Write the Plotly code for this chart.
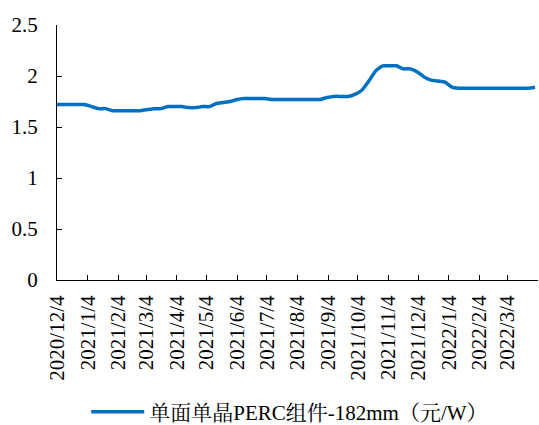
import plotly.graph_objects as go
import pandas as pd

start_date = "2020-12-04"
n_weeks = 70
prices = [
    1.72, 1.72, 1.72, 1.72, 1.72, 1.70, 1.68, 1.68, 1.66, 1.66,
    1.66, 1.66, 1.66, 1.67, 1.68, 1.68, 1.70, 1.70, 1.70, 1.69,
    1.69, 1.70, 1.70, 1.73, 1.74, 1.75, 1.77, 1.78, 1.78, 1.78,
    1.78, 1.77, 1.77, 1.77, 1.77, 1.77, 1.77, 1.77, 1.77, 1.79,
    1.80, 1.80, 1.80, 1.82, 1.86, 1.95, 2.05, 2.10, 2.10, 2.10,
    2.07, 2.07, 2.04, 1.99, 1.96, 1.95, 1.94, 1.89, 1.88, 1.88,
    1.88, 1.88, 1.88, 1.88, 1.88, 1.88, 1.88, 1.88, 1.88, 1.89,
]
series_name = "单面单晶PERC组件-182mm（元/W）"
tick_months = [(2020, 12)] + [(2021, i) for i in range(1, 13)] + [(2022, i) for i in range(1, 4)]
tick_dates = [pd.Timestamp(y, m, 4) for y, m in tick_months]
tick_labels = [f"{d.year}/{d.month}/{d.day}" for d in tick_dates]

dates = pd.date_range(start_date, periods=n_weeks, freq="7D")

fig = go.Figure()
fig.add_trace(go.Scatter(
    x=dates, y=prices, mode="lines", name=series_name,
    line=dict(color="#0070C0", width=3.5, shape="spline", smoothing=0.4),
    showlegend=True,
))

font_main = "Liberation Serif"
fig.update_layout(
    width=539, height=425,
    margin=dict(l=57, r=1, t=25, b=145, autoexpand=False),
    paper_bgcolor="white", plot_bgcolor="white",
    font=dict(family=font_main, size=21, color="black"),
    showlegend=True,
    legend=dict(orientation="h", xref="container", x=0.16, xanchor="left",
                yref="container", y=1 - 412 / 425, yanchor="middle",
                itemwidth=53,
                font=dict(family="Liberation Serif, Noto Serif CJK SC, Noto Sans CJK SC", size=21)),
    xaxis=dict(
        type="date",
        range=[pd.Timestamp("2020-12-04"), pd.Timestamp("2022-04-04")],
        tickvals=tick_dates, ticktext=tick_labels, tickangle=-90,
        ticks="inside", ticklen=5, tickcolor="black",
        showline=True, linecolor="black", linewidth=1.2,
        showgrid=False, zeroline=False, automargin=False,
        ticklabelstandoff=6,
        tickfont=dict(size=21),
    ),
    yaxis=dict(
        range=[0, 2.5], dtick=0.5, tick0=0,
        ticks="inside", ticklen=5, tickcolor="black",
        showline=True, linecolor="black", linewidth=1.2,
        showgrid=False, zeroline=False, automargin=False,
        ticklabelstandoff=14,
        tickfont=dict(size=21),
    ),
)

fig.write_html("out.html", config={"displayModeBar": False},
               post_script="document.body.style.margin='0';document.body.style.overflow='hidden';")
